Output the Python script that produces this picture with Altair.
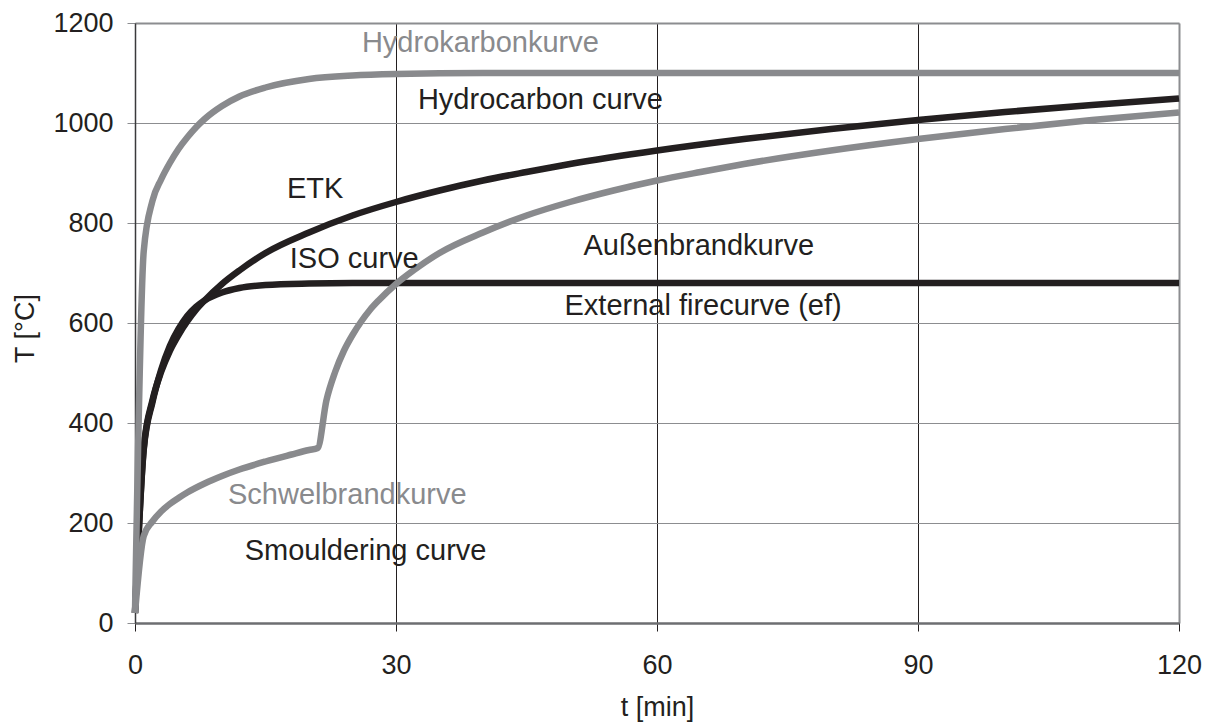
import altair as alt
import pandas as pd

hc_t = [0, 1, 2, 3, 4, 5, 6, 7, 8, 10, 12, 15, 20, 25, 30, 40, 60, 90, 120]
hc_T = [20, 743, 844, 887, 920, 948, 971, 991, 1008, 1034, 1053, 1071, 1088, 1095, 1098, 1100, 1100, 1100, 1100]

iso_t = [0, 1, 2, 3, 4, 5, 6, 7, 8, 10, 12, 15, 20, 25, 30, 35, 40, 45, 50, 60, 70, 80, 90, 100, 110, 120]
iso_T = [20, 349, 445, 502, 544, 576, 603, 626, 645, 678, 705, 740, 781, 815, 842, 865, 885, 902, 918, 945,
         968, 988, 1006, 1022, 1036, 1049]

ef_t = [0, 1, 2, 3, 4, 5, 6, 7, 8, 10, 12, 15, 20, 25, 30, 60, 90, 120]
ef_T = [20, 346, 441, 506, 554, 588, 614, 632, 645, 661, 670, 676, 679, 680, 680, 680, 680, 680]

sm_t = [0, 1, 2, 3, 4, 5, 6, 8, 10, 12, 15, 18, 20, 21, 22, 23, 24, 25, 26, 27, 28, 30, 32, 35,
        40, 45, 50, 55, 60, 65, 70, 80, 90, 100, 110, 120]
sm_T = [20, 174, 203, 223, 238, 250, 261, 279, 294, 307, 323, 337, 346, 350, 445, 502, 544, 576, 603, 626, 645, 678, 705, 740,
        781, 815, 842, 865, 885, 902, 918, 945, 968, 988, 1006, 1021]

label_text = ["Hydrokarbonkurve", "Hydrocarbon curve", "ETK", "ISO curve",
              "Außenbrandkurve", "External firecurve (ef)", "Schwelbrandkurve", "Smouldering curve"]
label_t = [39.7, 46.6, 20.7, 25.2, 64.8, 65.3, 24.4, 26.5]
label_T = [1142, 1029, 850, 710, 736, 616, 239, 126]
label_grp = ["gray", "black", "black", "black", "black", "black", "gray", "black"]

x_ticks = [0, 30, 60, 90, 120]
y_ticks = [0, 200, 400, 600, 800, 1000, 1200]

GRAY = "#898a8d"
BLACK = "#231f20"
FONT = "Liberation Sans"


def frame(name, ts, vs):
    return pd.DataFrame({"series": name, "t": ts, "T": vs})


black_df = pd.concat([frame("ISO", iso_t, iso_T), frame("ef", ef_t, ef_T)], ignore_index=True)
gray_df = pd.concat([frame("HC", hc_t, hc_T), frame("SM", sm_t, sm_T)], ignore_index=True)
labels_df = pd.DataFrame({"label": label_text, "t": label_t, "T": label_T, "grp": label_grp})

x_enc = alt.X(
    "t:Q",
    scale=alt.Scale(domain=[0, 120], nice=False, zero=False),
    axis=alt.Axis(
        values=x_ticks,
        format="d",
        title="t [min]",
        titleX=522,
        titleY=92,
        titleBaseline="alphabetic",
        titleAlign="center",
        titleFontSize=27,
        titleFontWeight="normal",
        titleColor=BLACK,
        titleFont=FONT,
        labelFont=FONT,
        labelFontSize=27,
        labelColor=BLACK,
        labelPadding=21,
        labelBaseline="top",
        labelFlush=False,
        labelOverlap=False,
        tickSize=8,
        tickColor=BLACK,
        tickWidth=1,
        domainColor="#6d6e71",
        domainWidth=2.5,
        grid=True,
        gridColor={"condition": {"test": "datum.value === 120", "value": "#8c8d90"}, "value": BLACK},
        gridWidth={"condition": {"test": "datum.value === 120", "value": 2}, "value": 1},
    ),
)

y_enc = alt.Y(
    "T:Q",
    scale=alt.Scale(domain=[0, 1200], nice=False, zero=True),
    axis=alt.Axis(
        values=y_ticks,
        format="d",
        title="T [°C]",
        titleX=-110,
        titleY=305,
        titleAngle=-90,
        titleBaseline="middle",
        titleAlign="center",
        titleFontSize=27,
        titleFontWeight="normal",
        titleColor=BLACK,
        titleFont=FONT,
        labelFont=FONT,
        labelFontSize=27,
        labelColor=BLACK,
        labelPadding=14,
        labelFlush=False,
        labelOverlap=False,
        tickSize=8,
        tickColor="#8c8d90",
        tickWidth=1,
        domainColor="#3a3a3c",
        domainWidth=1.5,
        grid=True,
        gridColor="#8c8d90",
        gridWidth={"condition": {"test": "datum.value === 1200", "value": 2}, "value": 1},
    ),
)

black_lines = alt.Chart(black_df).mark_line(
    color=BLACK, strokeWidth=6.5, strokeCap="butt", strokeJoin="round", interpolate="monotone"
).encode(x=x_enc, y=y_enc, detail="series:N")

gray_lines = alt.Chart(gray_df).mark_line(
    color=GRAY, strokeWidth=6.5, strokeCap="butt", strokeJoin="round", interpolate="monotone"
).encode(x=x_enc, y=y_enc, detail="series:N")

texts = alt.Chart(labels_df).mark_text(
    font=FONT, fontSize=29, align="center", baseline="alphabetic"
).encode(
    x=x_enc,
    y=y_enc,
    text="label:N",
    color=alt.Color("grp:N", scale=alt.Scale(domain=["gray", "black"], range=[GRAY, BLACK]), legend=None),
)

chart = alt.layer(black_lines, gray_lines, texts).properties(
    width=1044,
    height=600,
    autosize=alt.AutoSizeParams(type="none"),
    padding={"left": 127, "top": 15, "right": 28, "bottom": 100},
).configure_view(stroke=None).configure(background="white")

chart.save("out.html", embed_options={"renderer": "svg", "actions": False})
